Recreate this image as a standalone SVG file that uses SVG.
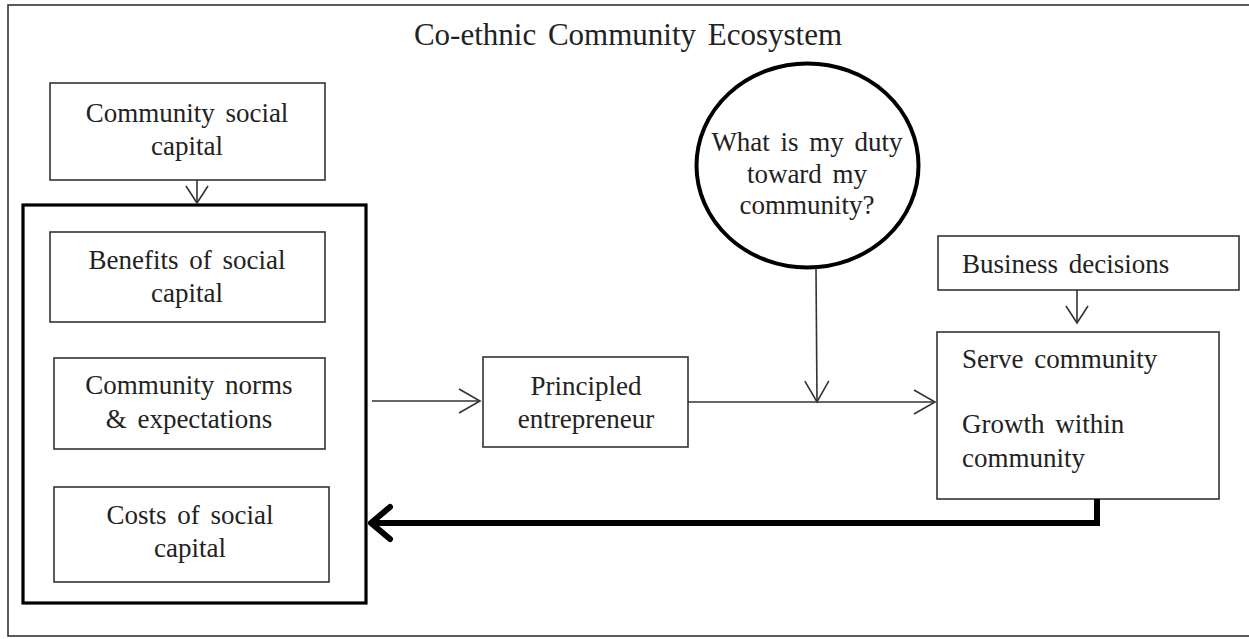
<svg xmlns="http://www.w3.org/2000/svg" width="1249" height="639" viewBox="0 0 1249 639">
<style>
  .t{font-family:"Liberation Serif","DejaVu Serif","Times New Roman",serif;font-size:27px;fill:#222;word-spacing:4px}
  .c{text-anchor:middle}
  .box{fill:#fff;stroke:#333;stroke-width:1.6}
  .ln{fill:none;stroke:#333;stroke-width:1.6}
</style>
<defs>
  <marker id="open" viewBox="0 0 24 26" refX="22" refY="13" markerWidth="24" markerHeight="26" markerUnits="userSpaceOnUse" orient="auto">
    <path d="M1,1 L22,13 L1,25" fill="none" stroke="#333" stroke-width="1.6"/>
  </marker>
  <marker id="openS" viewBox="0 0 20 24" refX="18" refY="12" markerWidth="20" markerHeight="24" markerUnits="userSpaceOnUse" orient="auto">
    <path d="M1,1 L18,12 L1,23" fill="none" stroke="#333" stroke-width="1.6"/>
  </marker>
  <marker id="thick" viewBox="0 0 26 40" refX="23" refY="20" markerWidth="26" markerHeight="40" markerUnits="userSpaceOnUse" orient="auto">
    <path d="M4,4 L23,20 L4,36" fill="none" stroke="#000" stroke-width="6" stroke-linecap="round" stroke-linejoin="round"/>
  </marker>
</defs>
<rect width="1249" height="639" fill="#fff"/>
<g id="frame">
  <rect x="8" y="5" width="1250" height="631" fill="none" stroke="#333" stroke-width="1.6"/>
  <text class="t c" x="628" y="45" font-size="31" style="font-size:31px">Co-ethnic Community Ecosystem</text>
</g>
<g id="social-capital-group">
  <rect x="23" y="205" width="343" height="398" fill="#fff" stroke="#000" stroke-width="3.2"/>
</g>
<g id="community-social-capital">
  <rect class="box" x="50" y="83" width="275" height="97"/>
  <text class="t c" x="187" y="122">Community social</text>
  <text class="t c" x="187" y="155">capital</text>
</g>
<g id="benefits">
  <rect class="box" x="50" y="232" width="275" height="90"/>
  <text class="t c" x="187" y="269">Benefits of social</text>
  <text class="t c" x="187" y="302">capital</text>
</g>
<g id="norms">
  <rect class="box" x="54" y="358" width="271" height="91"/>
  <text class="t c" x="189" y="394">Community norms</text>
  <text class="t c" x="189" y="428">&amp; expectations</text>
</g>
<g id="costs">
  <rect class="box" x="54" y="487" width="275" height="95"/>
  <text class="t c" x="190" y="524">Costs of social</text>
  <text class="t c" x="190" y="557">capital</text>
</g>
<g id="principled-entrepreneur">
  <rect class="box" x="483" y="357" width="205" height="90"/>
  <text class="t c" x="586" y="395">Principled</text>
  <text class="t c" x="586" y="428">entrepreneur</text>
</g>
<g id="duty">
  <ellipse cx="807.5" cy="165.5" rx="111" ry="102" fill="#fff" stroke="#000" stroke-width="4"/>
  <text class="t c" x="807" y="151">What is my duty</text>
  <text class="t c" x="807" y="183">toward my</text>
  <text class="t c" x="807" y="214">community?</text>
</g>
<g id="business-decisions">
  <rect class="box" x="938" y="236" width="301" height="54"/>
  <text class="t" x="962" y="273">Business decisions</text>
</g>
<g id="outcomes">
  <rect class="box" x="937" y="332" width="282" height="167"/>
  <text class="t" x="962" y="368">Serve community</text>
  <text class="t" x="962" y="433">Growth within</text>
  <text class="t" x="962" y="467">community</text>
</g>
<g id="connectors">
  <line class="ln" x1="197" y1="180" x2="197" y2="203" marker-end="url(#openS)"/>
  <line class="ln" x1="372" y1="401" x2="480" y2="401" marker-end="url(#open)"/>
  <line class="ln" x1="688" y1="402" x2="935" y2="402" marker-end="url(#open)"/>
  <line class="ln" x1="816" y1="268" x2="817" y2="402" marker-end="url(#open)"/>
  <line class="ln" x1="1077" y1="290" x2="1077" y2="323" marker-end="url(#openS)"/>
  <path d="M1097,499 L1097,523 L371,523" fill="none" stroke="#000" stroke-width="6" stroke-linejoin="miter" marker-end="url(#thick)"/>
</g>
</svg>
